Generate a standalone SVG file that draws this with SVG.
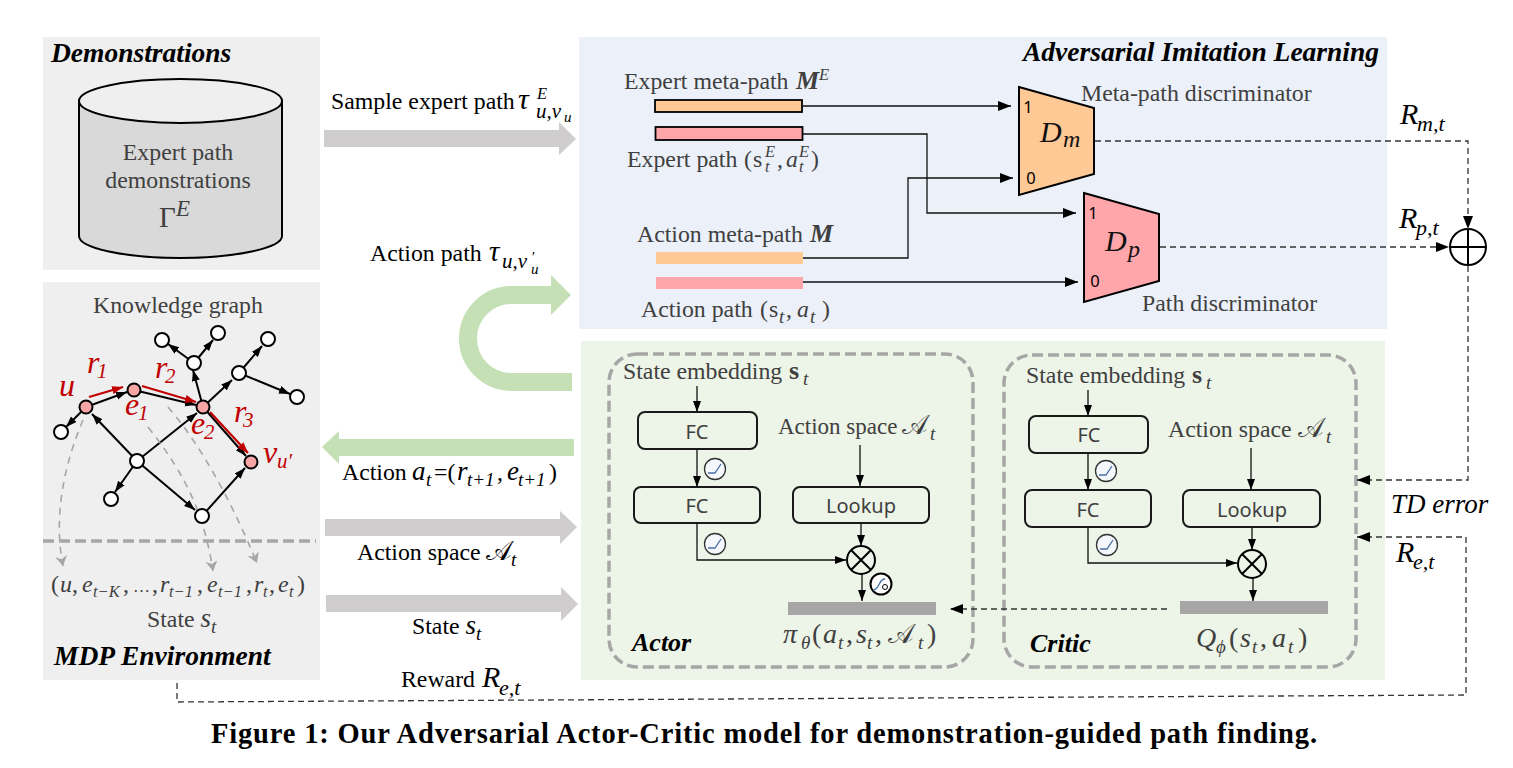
<svg xmlns="http://www.w3.org/2000/svg" width="1513" height="768" viewBox="0 0 1513 768">
<style>
text{font-family:"Liberation Serif",serif;fill:#404040;font-size:23.8px}
.k{fill:#000}
.i{font-style:italic}
.u{font-style:normal}
.sc{font-family:"DejaVu Serif","DejaVu Sans",serif;font-style:normal;font-size:27px}
.t{font-weight:bold;font-style:italic;fill:#000;font-size:27.5px}
.s{font-size:19px;font-style:italic}
.st{font-size:16.5px;font-style:italic}
.xs{font-size:15px;font-style:italic}
.m{font-size:28px;font-style:italic}
.big{font-size:30px;font-style:italic;fill:#111}
.sb{font-size:24px;font-style:italic;fill:#111}
.bm{font-weight:bold;font-style:italic;font-size:26px}
.r{fill:#c00000;font-style:italic;font-size:32px}
.rs{fill:#c00000;font-style:italic;font-size:21px}
.b{font-family:"Noto Sans",sans-serif;font-size:20px;text-anchor:middle}
.n{font-family:"Noto Sans",sans-serif;font-size:16.5px;text-anchor:middle;fill:#000}
.box{fill:#edf4e8;stroke:#1a1a1a;stroke-width:2}
.dash{fill:none;stroke:#a6a6a6;stroke-width:3.5;stroke-dasharray:11 5}
.l{fill:none;stroke:#111;stroke-width:1.3}
.d{fill:none;stroke:#333;stroke-width:1.3;stroke-dasharray:6 4}
.g{fill:none;stroke:#000;stroke-width:2}
.g2{fill:none;stroke:#a6a6a6;stroke-width:1.6;stroke-dasharray:7 6}
.rd{fill:none;stroke:#c00000;stroke-width:2.2}
.nd{fill:#fff;stroke:#000;stroke-width:2}
.nr{fill:#f8a5a5;stroke:#000;stroke-width:2}
.ic{fill:#f4f8fc;stroke:#333;stroke-width:1.3}
.ip{fill:none;stroke:#4a6fa5;stroke-width:1.3}
.ga{fill:#cfcdce}
.gr{fill:#c5e0b4}
</style>
<defs>
<marker id="a" markerUnits="userSpaceOnUse" markerWidth="14" markerHeight="12" refX="13" refY="5" orient="auto"><path d="M0,0L13,5L0,10z" fill="#000"/></marker>
<marker id="a2" markerUnits="userSpaceOnUse" markerWidth="12" markerHeight="10" refX="11" refY="4" orient="auto"><path d="M0,0L11,4L0,8z" fill="#000"/></marker>
<marker id="ar" markerUnits="userSpaceOnUse" markerWidth="12" markerHeight="10" refX="11" refY="4" orient="auto"><path d="M0,0L11,4L0,8z" fill="#c00000"/></marker>
<marker id="ag" markerUnits="userSpaceOnUse" markerWidth="14" markerHeight="14" refX="10" refY="6" orient="auto"><path d="M0,0L10,6L0,12L3,6z" fill="#a6a6a6"/></marker>
</defs>

<g id="panels">
<rect x="43" y="37" width="277" height="233" fill="#efefef"/>
<rect x="43" y="282" width="277" height="398" fill="#efefef"/>
<rect x="579" y="37" width="808" height="292" fill="#ebf0f9"/>
<rect x="581" y="341" width="804" height="339" fill="#edf4e8"/>
</g>

<g id="demonstrations">
<text x="51" y="62" class="t">Demonstrations</text>
<path d="M79,101V236C79,248 125,258 180,258S282,248 282,236V101z" fill="#d9d9d9" stroke="#000" stroke-width="2"/>
<ellipse cx="180.500" cy="101" rx="101.500" ry="22" fill="#efefef" stroke="#000" stroke-width="2"/>
<text x="178" y="160" text-anchor="middle">Expert path</text>
<text x="178" y="188" text-anchor="middle">demonstrations</text>
<text x="159" y="227" style="font-size:29px">Γ<tspan x="176" y="216" class="i" style="font-size:23px">E</tspan></text>
</g>

<g id="knowledge-graph">
<text x="93" y="313">Knowledge graph</text>
<path class="g" marker-end="url(#a2)" d="M86,407L127,392"/>
<path class="g" marker-end="url(#a2)" d="M134,390L196,405"/>
<path class="g" marker-end="url(#a2)" d="M86,407L66,427"/>
<path class="g" marker-end="url(#a2)" d="M137,461L92,414"/>
<path class="g" marker-end="url(#a2)" d="M137,461L197,413"/>
<path class="g" marker-end="url(#a2)" d="M137,461L115,492"/>
<path class="g" marker-end="url(#a2)" d="M137,461L195,510"/>
<path class="g" marker-end="url(#a2)" d="M202,516L245,468"/>
<path class="g" marker-end="url(#a2)" d="M203,407L246,456"/>
<path class="g" marker-end="url(#a2)" d="M203,407L193,370"/>
<path class="g" marker-end="url(#a2)" d="M194,363L168,344"/>
<path class="g" marker-end="url(#a2)" d="M194,363L213,340"/>
<path class="g" marker-end="url(#a2)" d="M203,407L232,380"/>
<path class="g" marker-end="url(#a2)" d="M239,373L262,346"/>
<path class="g" marker-end="url(#a2)" d="M239,373L290,394"/>
<path class="rd" marker-end="url(#ar)" d="M89,397L123,387"/>
<path class="rd" marker-end="url(#ar)" d="M142,386L196,402"/>
<path class="rd" marker-end="url(#ar)" d="M210,412L248,453"/>
<path class="g2" marker-end="url(#ag)" d="M83,420C62,470 54,520 63,566"/>
<path class="g2" marker-end="url(#ag)" d="M148,427C190,480 205,520 213,571"/>
<path class="g2" marker-end="url(#ag)" d="M168,407C205,450 235,510 257,563"/>
<path d="M43,541H316" fill="none" stroke="#a6a6a6" stroke-width="3.500" stroke-dasharray="11 5"/>
<circle class="nr" cx="86" cy="407" r="6.500"/><circle class="nr" cx="134" cy="390" r="6.500"/><circle class="nr" cx="203" cy="407" r="6.500"/><circle class="nr" cx="251" cy="462" r="6.500"/>
<circle class="nd" cx="61" cy="432" r="7"/><circle class="nd" cx="137" cy="461" r="7"/><circle class="nd" cx="111" cy="499" r="7"/><circle class="nd" cx="202" cy="516" r="7"/><circle class="nd" cx="194" cy="363" r="7"/><circle class="nd" cx="162" cy="340" r="7"/><circle class="nd" cx="218" cy="333" r="7"/><circle class="nd" cx="239" cy="373" r="7"/><circle class="nd" cx="268" cy="339" r="7"/><circle class="nd" cx="297" cy="397" r="7"/>
<text x="59" y="396" class="r">u</text>
<text x="87" y="373" class="r">r<tspan x="97" y="378" class="rs">1</tspan></text>
<text x="155" y="378" class="r">r<tspan x="165" y="383" class="rs">2</tspan></text>
<text x="125" y="415" class="r">e<tspan x="138" y="420" class="rs">1</tspan></text>
<text x="191" y="434" class="r">e<tspan x="204" y="439" class="rs">2</tspan></text>
<text x="234" y="422" class="r">r<tspan x="243" y="427" class="rs">3</tspan></text>
<text x="263" y="463" class="r">v<tspan x="277" y="468" class="rs">u′</tspan></text>
<text y="592" class="i" style="font-size:24px"><tspan x="51" class="u">(</tspan><tspan x="60">u</tspan><tspan x="72" class="u">,</tspan><tspan x="82">e</tspan><tspan x="93" y="597" class="st">t−K</tspan><tspan x="123" y="592" class="u">,</tspan><tspan x="133" class="u" style="font-size:17px">…</tspan><tspan x="152" class="u">,</tspan><tspan x="160">r</tspan><tspan x="169" y="597" class="st">t−1</tspan><tspan x="197" y="592" class="u">,</tspan><tspan x="207">e</tspan><tspan x="218" y="597" class="st">t−1</tspan><tspan x="246" y="592" class="u">,</tspan><tspan x="254">r</tspan><tspan x="263" y="597" class="st">t</tspan><tspan x="269" y="592" class="u">,</tspan><tspan x="278">e</tspan><tspan x="289" y="597" class="st">t</tspan><tspan x="297" y="592" class="u">)</tspan></text>
<text x="147" y="627">State <tspan class="i" style="font-size:27px">s</tspan><tspan class="s" dy="6">t</tspan></text>
<text x="54" y="665" class="t">MDP Environment</text>
</g>

<g id="adversarial-imitation-learning">
<text x="1023" y="61" class="t">Adversarial Imitation Learning</text>
<text x="624" y="89">Expert meta-path<tspan x="796" class="bm">M</tspan><tspan x="819" y="80" class="st">E</tspan></text>
<rect x="655" y="100" width="147" height="12" fill="#ffc995" stroke="#000" stroke-width="1.800"/>
<rect x="655.500" y="127" width="147" height="13" fill="#ffa6ab" stroke="#000" stroke-width="1.800"/>
<text x="627" y="167">Expert path<tspan x="744">(</tspan><tspan x="753">s</tspan><tspan x="765" y="157" class="st">E</tspan><tspan x="765" y="172" class="st">t</tspan><tspan x="777" y="167">,</tspan><tspan x="786" class="i">a</tspan><tspan x="799" y="157" class="st">E</tspan><tspan x="799" y="172" class="st">t</tspan><tspan x="811" y="167">)</tspan></text>
<text x="637" y="242">Action meta-path<tspan x="810" class="bm">M</tspan></text>
<rect x="656" y="252" width="147" height="12" fill="#ffc995"/>
<rect x="656" y="277" width="147" height="12" fill="#ffa6ab"/>
<text x="641" y="317">Action path<tspan x="760">(</tspan><tspan x="769">s</tspan><tspan class="s" x="779" y="323">t</tspan><tspan x="786" y="317">,</tspan><tspan x="797" class="i">a</tspan><tspan class="s" x="810" y="323">t</tspan><tspan x="822" y="317">)</tspan></text>
</g>

<g id="meta-path-discriminator">
<path d="M1019,87L1094,108V174L1019,195z" fill="#ffc995" stroke="#000" stroke-width="2"/>
<text x="1028" y="113" class="n">1</text><text x="1031" y="184" class="n">0</text>
<text x="1040" y="142" class="big">D<tspan x="1063" y="147" class="sb">m</tspan></text>
<text x="1081" y="101">Meta-path discriminator</text>
</g>
<g id="path-discriminator">
<path d="M1084,193L1159,214V281L1084,302z" fill="#ffa6ab" stroke="#000" stroke-width="2"/>
<text x="1093" y="219" class="n">1</text><text x="1095" y="287" class="n">0</text>
<text x="1105" y="251" class="big">D<tspan x="1128" y="257" class="sb">p</tspan></text>
<text x="1142" y="311">Path discriminator</text>
</g>

<g id="actor">
<rect x="609" y="354" width="364" height="313" rx="28" class="dash"/>
<text x="623" y="379">State embedding<tspan x="789" font-weight="bold" style="font-size:26px">s</tspan><tspan x="803" y="385" class="s">t</tspan></text>
<text x="778" y="434" style="font-size:23px">Action space<tspan x="902" class="sc">𝒜</tspan><tspan x="930" y="440" class="s">t</tspan></text>
<rect x="638" y="412" width="119" height="37" rx="7" class="box"/><text x="697" y="439" class="b">FC</text>
<rect x="634" y="487" width="126" height="36" rx="7" class="box"/><text x="697" y="513" class="b">FC</text>
<rect x="793" y="487" width="136" height="36" rx="7" class="box"/><text x="861" y="513" class="b">Lookup</text>
<rect x="788" y="602" width="148" height="13" fill="#a6a6a6"/>
<path class="l" marker-end="url(#a2)" d="M697,386V412"/>
<path class="l" marker-end="url(#a2)" d="M697,449V487"/>
<path class="l" marker-end="url(#a2)" d="M697,523V560H846"/>
<path class="l" marker-end="url(#a2)" d="M860,445V486"/>
<path class="l" marker-end="url(#a2)" d="M861,523V546"/>
<path class="l" marker-end="url(#a2)" d="M862,574V601"/>
<circle cx="861" cy="560" r="14" fill="#edf4e8" stroke="#000" stroke-width="2"/><path d="M851,550L871,570M871,550L851,570" stroke="#000" stroke-width="2"/>
<circle class="ic" cx="715" cy="469" r="10.500"/><path class="ip" d="M708,473H715L721,464"/>
<circle class="ic" cx="715" cy="544" r="10.500"/><path class="ip" d="M708,548H715L721,539"/>
<circle cx="881" cy="584" r="10.500" fill="#fff" stroke="#000" stroke-width="2"/><path class="ip" d="M873,590C880,590 878,579 885,579"/><circle cx="885" cy="587" r="2.500" fill="none" stroke="#000" stroke-width="1"/>
<text y="643" class="m"><tspan x="783">π</tspan><tspan x="801" y="649" class="s">θ</tspan><tspan x="812" y="643" class="u">(</tspan><tspan x="823">a</tspan><tspan x="838" y="649" class="s">t</tspan><tspan x="846" y="643" class="u">,</tspan><tspan x="856">s</tspan><tspan x="867" y="649" class="s">t</tspan><tspan x="875" y="643" class="u">,</tspan><tspan x="888" class="sc">𝒜</tspan><tspan x="918" y="649" class="s">t</tspan><tspan x="927" y="643" class="u">)</tspan></text>
<text x="632" y="651" class="t" style="font-size:26px">Actor</text>
</g>

<g id="critic">
<rect x="1004" y="355" width="352" height="312" rx="28" class="dash"/>
<text x="1026" y="383">State embedding<tspan x="1192" font-weight="bold" style="font-size:26px">s</tspan><tspan x="1206" y="389" class="s">t</tspan></text>
<text x="1168" y="437">Action space<tspan x="1298" class="sc">𝒜</tspan><tspan x="1326" y="443" class="s">t</tspan></text>
<rect x="1029" y="416" width="119" height="37" rx="7" class="box"/><text x="1089" y="442" class="b">FC</text>
<rect x="1025" y="490" width="126" height="37" rx="7" class="box"/><text x="1088" y="517" class="b">FC</text>
<rect x="1183" y="490" width="137" height="37" rx="7" class="box"/><text x="1252" y="517" class="b">Lookup</text>
<rect x="1180" y="601" width="148" height="13" fill="#a6a6a6"/>
<path class="l" marker-end="url(#a2)" d="M1088,390V416"/>
<path class="l" marker-end="url(#a2)" d="M1088,453V490"/>
<path class="l" marker-end="url(#a2)" d="M1088,527V563H1237"/>
<path class="l" marker-end="url(#a2)" d="M1251,448V490"/>
<path class="l" marker-end="url(#a2)" d="M1252,527V550"/>
<path class="l" marker-end="url(#a2)" d="M1253,578V601"/>
<circle cx="1252" cy="564" r="14" fill="#edf4e8" stroke="#000" stroke-width="2"/><path d="M1242,554L1262,574M1262,554L1242,574" stroke="#000" stroke-width="2"/>
<circle class="ic" cx="1106" cy="471" r="10.500"/><path class="ip" d="M1099,475H1106L1112,466"/>
<circle class="ic" cx="1107" cy="545" r="10.500"/><path class="ip" d="M1100,549H1107L1113,540"/>
<text y="647" class="m"><tspan x="1196">Q</tspan><tspan x="1216" y="653" class="s">ϕ</tspan><tspan x="1229" y="647" class="u">(</tspan><tspan x="1240">s</tspan><tspan x="1252" y="653" class="s">t</tspan><tspan x="1260" y="647" class="u">,</tspan><tspan x="1272">a</tspan><tspan x="1288" y="653" class="s">t</tspan><tspan x="1298" y="647" class="u">)</tspan></text>
<text x="1030" y="652" class="t" style="font-size:26px">Critic</text>
</g>

<g id="sum-node">
<circle cx="1468" cy="247" r="18" fill="#fff" stroke="#000" stroke-width="2"/>
<path d="M1450,247H1486M1468,229V265" stroke="#000" stroke-width="2"/>
</g>

<g id="connectors">
<path class="ga" d="M324,130H559V122L576,139L559,155V147H324z"/>
<path class="ga" d="M325,519H560V511L577,527L560,544V536H325z"/>
<path class="ga" d="M326,595H561V587L578,604L561,621V612H326z"/>
<path class="gr" d="M574,439H339V431L322,447L339,464V456H574z"/>
<path d="M572,382H511.500A43.500,43.500 0 0 1 511.500,295H552" fill="none" stroke="#c5e0b4" stroke-width="18"/>
<path class="gr" d="M551,275L571,295L551,315z"/>
<path class="l" marker-end="url(#a)" d="M802,106H1011"/>
<path class="l" marker-end="url(#a)" d="M803,134H927V213H1076"/>
<path class="l" marker-end="url(#a)" d="M803,258H908V178H1013"/>
<path class="l" marker-end="url(#a)" d="M803,282H1078"/>
<path class="d" marker-end="url(#a)" d="M1095,141H1468V229"/>
<path class="d" marker-end="url(#a)" d="M1160,247H1449"/>
<path class="d" marker-end="url(#a)" d="M1468,266V480H1357"/>
<path class="d" marker-end="url(#a)" d="M177,683V702L1466,695V537H1357"/>
<path class="d" marker-end="url(#a)" d="M1167,609H950"/>
</g>

<g id="labels">
<text x="331" y="109" class="k">Sample expert path</text>
<text x="518" y="109" class="k i" style="font-size:30px">τ</text>
<text x="537" y="99" class="k st">E</text>
<text x="536" y="118" class="k s" style="font-size:21px">u,v</text>
<text x="564" y="122" class="k xs">u</text>
<text x="370" y="261" class="k">Action path</text>
<text x="489" y="261" class="k i" style="font-size:29px">τ</text>
<text x="502" y="268" class="k s" style="font-size:21px">u,v</text>
<text x="531" y="262" class="k xs">′</text>
<text x="531" y="274" class="k xs">u</text>
<text y="480" class="k"><tspan x="342">Action</tspan><tspan x="412" class="i" style="font-size:27px">a</tspan><tspan x="426" y="486" class="s">t</tspan><tspan x="434" y="480">=(</tspan><tspan x="457" class="i" style="font-size:27px">r</tspan><tspan x="467" y="486" class="s">t+1</tspan><tspan x="497" y="480">,</tspan><tspan x="507" class="i" style="font-size:27px">e</tspan><tspan x="518" y="486" class="s">t+1</tspan><tspan x="549" y="480">)</tspan></text>
<text x="357" y="560" class="k">Action space<tspan x="486" class="sc">𝒜</tspan><tspan x="511" y="566" class="s">t</tspan></text>
<text x="412" y="634" class="k">State <tspan class="i" style="font-size:27px">s</tspan><tspan class="s" dy="6">t</tspan></text>
<text x="401" y="687" class="k">Reward<tspan x="482" class="i" style="font-size:30px">R</tspan><tspan x="499" y="695" class="s" style="font-size:22px">e,t</tspan></text>
<text x="1400" y="124" class="k i" style="font-size:30px">R<tspan x="1417" y="131" class="s" style="font-size:22px">m,t</tspan></text>
<text x="1399" y="228" class="k i" style="font-size:30px">R<tspan x="1416" y="235" class="s" style="font-size:22px">p,t</tspan></text>
<text x="1391" y="513" class="k i" style="font-size:27px">TD error</text>
<text x="1396" y="562" class="k i" style="font-size:30px">R<tspan x="1413" y="569" class="s" style="font-size:22px">e,t</tspan></text>
<text x="211" y="743" class="k" style="font-size:28.5px;font-weight:bold" textLength="1106" lengthAdjust="spacing">Figure 1: Our Adversarial Actor-Critic model for demonstration-guided path finding.</text>
</g>
</svg>
